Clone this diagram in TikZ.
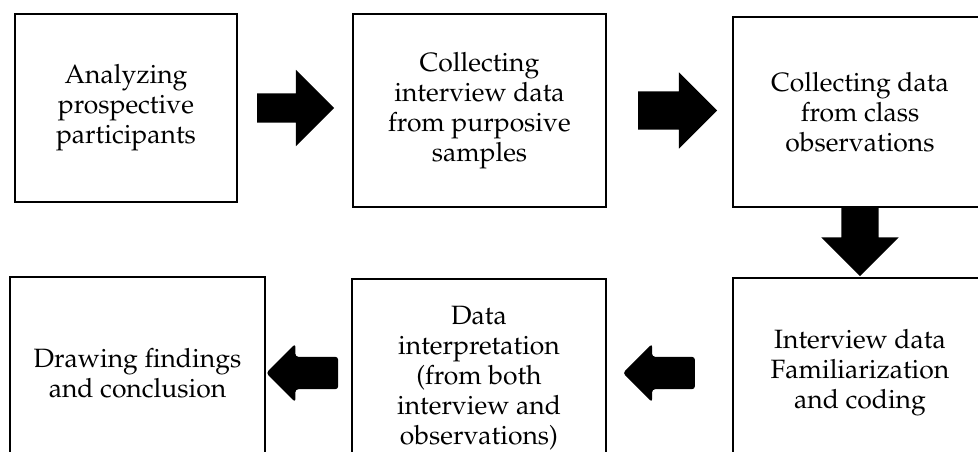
\documentclass[tikz,border=0pt]{standalone}
\usepackage[T1]{fontenc}
\usepackage{mathpazo}
\usetikzlibrary{shapes.arrows}

\begin{document}
\begin{tikzpicture}[x=1pt,y=-1pt,
	etape/.style={draw,line width=1.8pt,align=center,inner sep=0pt,
		font=\fontsize{26.5}{30}\selectfont},
	fleche/.style={single arrow,fill=black,draw=none,inner xsep=0pt,
		single arrow tip angle=90},
	]
	\useasboundingbox (0,0) rectangle (978,451);
	\clip (0,0) rectangle (978,451);
	
	% premiere ligne
	\node[etape,minimum width=222pt,minimum height=188pt] (analyse) at (126,108) {Analyzing\\prospective\\participants};
	\node[etape,minimum width=253pt,minimum height=193pt] (entretien) at (479.5,110.5) {Collecting\\interview data\\from purposive\\samples};
	\node[etape,minimum width=254pt,minimum height=190pt] (observ) at (860,112) {Collecting data\\from class\\observations};
	
	% deuxieme ligne (coupee en bas)
	\node[etape,minimum width=255pt,minimum height=192pt] (conclusion) at (137.5,373) {Drawing findings\\and conclusion};
	\node[etape,minimum width=254pt,minimum height=198pt] (interp) at (479,378) {Data\\interpretation\\(from both\\interview and\\observations)};
	\node[etape,minimum width=254pt,minimum height=190pt] (codage) at (860,373) {Interview data\\Familiarization\\and coding};
	
	% les fleches
	\node[fleche,minimum height=77pt,inner ysep=14.5pt,single arrow head extend=23.5pt,anchor=tail] (f1) at ([xshift=19pt]analyse.east) {};
	\node[fleche,minimum height=79pt,inner ysep=19pt,single arrow head extend=19pt,anchor=tail] (f2) at ([xshift=31pt]entretien.east) {};
	\node[fleche,minimum height=68pt,inner ysep=18.5pt,single arrow head extend=20pt,rotate=-90,anchor=tail] (f3) at (observ.south) {};
	\node[fleche,rounded corners=3pt,minimum height=72pt,inner ysep=16pt,single arrow head extend=13pt,shape border rotate=180,anchor=tail] (f4) at ([xshift=-37pt]codage.west) {};
	\node[fleche,rounded corners=3pt,minimum height=72pt,inner ysep=16pt,single arrow head extend=13pt,shape border rotate=180,anchor=tip] (f5) at (conclusion.east) {};
	
\end{tikzpicture}
\end{document}
